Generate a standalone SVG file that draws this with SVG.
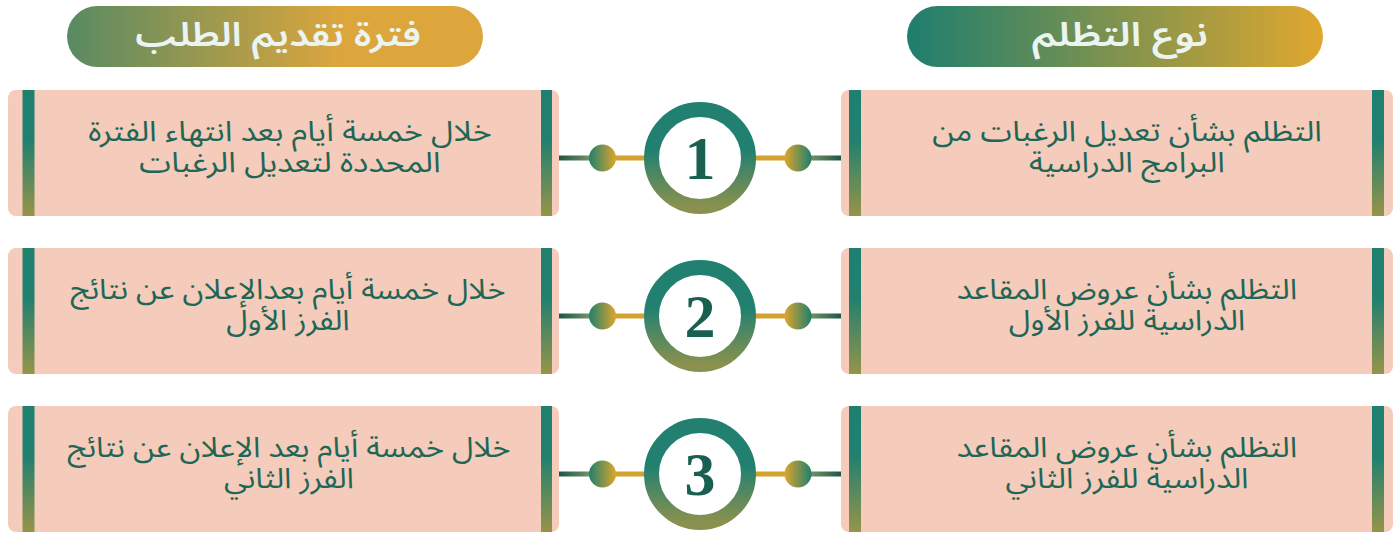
<svg xmlns="http://www.w3.org/2000/svg" width="1397" height="533" viewBox="0 0 1397 533">
<defs>
<linearGradient id="gHdrR" x1="0" y1="0" x2="1" y2="0"><stop offset="0" stop-color="#1E7E6E"/><stop offset="1" stop-color="#E0A72F"/></linearGradient>
<linearGradient id="gHdrL" x1="0" y1="0" x2="1" y2="0"><stop offset="0" stop-color="#588A62"/><stop offset="0.66" stop-color="#DDA63D"/><stop offset="1" stop-color="#DDA63D"/></linearGradient>
<linearGradient id="gBar" x1="0" y1="0" x2="0" y2="1"><stop offset="0" stop-color="#20806F"/><stop offset="0.4" stop-color="#21806F"/><stop offset="1" stop-color="#969449"/></linearGradient>
<linearGradient id="gRing" x1="0" y1="0" x2="0" y2="1"><stop offset="0" stop-color="#218070"/><stop offset="0.42" stop-color="#228070"/><stop offset="1" stop-color="#8A914E"/></linearGradient>
<linearGradient id="gDotL" x1="0" y1="0" x2="1" y2="0"><stop offset="0" stop-color="#1F7F6E"/><stop offset="1" stop-color="#DDA62C"/></linearGradient>
<linearGradient id="gDotR" x1="0" y1="0" x2="1" y2="0"><stop offset="0" stop-color="#DDA62C"/><stop offset="1" stop-color="#1F7F6E"/></linearGradient>
<linearGradient id="gLineL" x1="0" y1="0" x2="1" y2="0"><stop offset="0" stop-color="#1E5644"/><stop offset="1" stop-color="#759265"/></linearGradient>
<linearGradient id="gLineR" x1="0" y1="0" x2="1" y2="0"><stop offset="0" stop-color="#759265"/><stop offset="1" stop-color="#1E5644"/></linearGradient>
<style>
.card{fill:#F5CBBB}
.bar{fill:url(#gBar)}
.txt{font-family:"Noto Sans Arabic","DejaVu Sans",sans-serif;font-size:28.5px;fill:#1E6656;text-anchor:middle}
.hdr{font-family:"Noto Sans Arabic","DejaVu Sans",sans-serif;font-size:33px;font-weight:600;fill:#EAF4F0;text-anchor:middle}
.num{font-family:"Liberation Serif","DejaVu Serif",serif;font-size:62px;font-weight:bold;fill:#1A6052;text-anchor:middle}
.ring{fill:#FFFFFF;stroke:url(#gRing);stroke-width:15}
.gold{fill:#D3A22E}
</style>
</defs>
<rect width="1397" height="533" fill="#FFFFFF"/>

<g id="header-right">
<rect x="907" y="6" width="416" height="61" rx="30.5" fill="url(#gHdrR)"/>
<text class="hdr" transform="translate(1120,46) scale(1.26,1)" x="0" y="0" direction="rtl">نوع التظلم</text>
</g>
<g id="header-left">
<rect x="67" y="6" width="416" height="61" rx="30.5" fill="url(#gHdrL)"/>
<text class="hdr" transform="translate(278,46) scale(1.18,1)" x="0" y="0" direction="rtl">فترة تقديم الطلب</text>
</g>

<g id="connectors">
<rect x="559" y="155.5" width="31" height="5" fill="url(#gLineL)"/>
<rect x="614" y="155.5" width="32" height="5" class="gold"/>
<rect x="754" y="155.5" width="32" height="5" class="gold"/>
<rect x="810" y="155.5" width="32" height="5" fill="url(#gLineR)"/>
<circle cx="602.5" cy="158" r="13.5" fill="url(#gDotL)"/>
<circle cx="798" cy="158" r="13.5" fill="url(#gDotR)"/>

<rect x="559" y="313.5" width="31" height="5" fill="url(#gLineL)"/>
<rect x="614" y="313.5" width="32" height="5" class="gold"/>
<rect x="754" y="313.5" width="32" height="5" class="gold"/>
<rect x="810" y="313.5" width="32" height="5" fill="url(#gLineR)"/>
<circle cx="602.5" cy="316" r="13.5" fill="url(#gDotL)"/>
<circle cx="798" cy="316" r="13.5" fill="url(#gDotR)"/>

<rect x="559" y="471.5" width="31" height="5" fill="url(#gLineL)"/>
<rect x="614" y="471.5" width="32" height="5" class="gold"/>
<rect x="754" y="471.5" width="32" height="5" class="gold"/>
<rect x="810" y="471.5" width="32" height="5" fill="url(#gLineR)"/>
<circle cx="602.5" cy="474" r="13.5" fill="url(#gDotL)"/>
<circle cx="798" cy="474" r="13.5" fill="url(#gDotR)"/>
</g>

<g id="step-1">
<circle class="ring" cx="700" cy="158" r="48.5"/>
<text class="num" x="700" y="179">1</text>
</g>
<g id="step-2">
<circle class="ring" cx="700" cy="316" r="48.5"/>
<text class="num" x="700" y="337">2</text>
</g>
<g id="step-3">
<circle class="ring" cx="700" cy="474" r="48.5"/>
<text class="num" x="700" y="495">3</text>
</g>

<g id="type-1">
<rect class="card" x="841" y="90" width="552" height="126" rx="8"/>
<rect class="bar" x="849" y="90" width="12" height="126"/>
<rect class="bar" x="1372" y="90" width="12" height="126"/>
<text class="txt" transform="translate(1127,0) scale(1.12,1)" direction="rtl"><tspan x="0" y="141">التظلم بشأن تعديل الرغبات من</tspan><tspan x="0" y="172">البرامج الدراسية</tspan></text>
</g>
<g id="period-1">
<rect class="card" x="8" y="90" width="551" height="126" rx="8"/>
<rect class="bar" x="22.5" y="90" width="12" height="126"/>
<rect class="bar" x="541" y="90" width="11" height="126"/>
<text class="txt" transform="translate(290,0) scale(1.13,1)" direction="rtl"><tspan x="0" y="141">خلال خمسة أيام بعد انتهاء الفترة</tspan><tspan x="0" y="172">المحددة لتعديل الرغبات</tspan></text>
</g>

<g id="type-2">
<rect class="card" x="841" y="248" width="552" height="126" rx="8"/>
<rect class="bar" x="849" y="248" width="12" height="126"/>
<rect class="bar" x="1372" y="248" width="12" height="126"/>
<text class="txt" transform="translate(1127,0) scale(1.1,1)" direction="rtl"><tspan x="0" y="299">التظلم بشأن عروض المقاعد</tspan><tspan x="0" y="330">الدراسية للفرز الأول</tspan></text>
</g>
<g id="period-2">
<rect class="card" x="8" y="248" width="551" height="126" rx="8"/>
<rect class="bar" x="22.5" y="248" width="12" height="126"/>
<rect class="bar" x="541" y="248" width="11" height="126"/>
<text class="txt" transform="translate(288,0) scale(1.09,1)" direction="rtl"><tspan x="0" y="299">خلال خمسة أيام بعدالإعلان عن نتائج</tspan><tspan x="0" y="330">الفرز الأول</tspan></text>
</g>

<g id="type-3">
<rect class="card" x="841" y="406" width="552" height="126" rx="8"/>
<rect class="bar" x="849" y="406" width="12" height="126"/>
<rect class="bar" x="1372" y="406" width="12" height="126"/>
<text class="txt" transform="translate(1127,0) scale(1.1,1)" direction="rtl"><tspan x="0" y="457">التظلم بشأن عروض المقاعد</tspan><tspan x="0" y="488">الدراسية للفرز الثاني</tspan></text>
</g>
<g id="period-3">
<rect class="card" x="8" y="406" width="551" height="126" rx="8"/>
<rect class="bar" x="22.5" y="406" width="12" height="126"/>
<rect class="bar" x="541" y="406" width="11" height="126"/>
<text class="txt" transform="translate(289,0) scale(1.09,1)" direction="rtl"><tspan x="0" y="457">خلال خمسة أيام بعد الإعلان عن نتائج</tspan><tspan x="0" y="488">الفرز الثاني</tspan></text>
</g>
</svg>
